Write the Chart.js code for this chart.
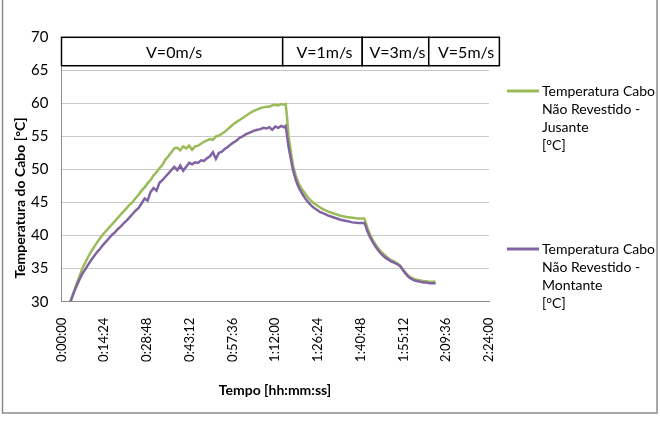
<!DOCTYPE html>
<html>
<head>
<meta charset="utf-8">
<script src="https://cdn.jsdelivr.net/npm/chart.js@4/dist/chart.umd.min.js"></script>
<style>
  body { margin: 0; background: #fff; }
</style>
</head>
<body>
<canvas id="myChart" width="660" height="426"></canvas>
<script>
// tempo em minutos
const tempoMin = [
  3, 4, 5, 6, 7, 8, 9, 10, 11, 12,
  13, 14, 15, 16, 17, 18, 19, 20, 21, 22,
  23, 24, 25, 26, 27, 28, 29, 30, 31, 32,
  33, 34, 35, 36, 37, 38, 39, 40, 41, 42,
  43, 44, 45, 46, 47, 48, 49, 50, 51, 52,
  53, 54, 55, 56, 57, 58, 59, 60, 61, 62,
  63, 64, 65, 66, 67, 68, 69, 70, 71, 72,
  73, 74, 75, 75.5, 76, 76.5, 77, 77.5, 78, 79,
  80, 81, 82, 83, 84, 85, 86, 87, 88, 89,
  90, 92, 94, 96, 98, 100, 102, 102.5, 103, 104,
  105, 106, 107, 108, 109, 110, 111, 112, 113, 114,
  115, 116, 117, 118, 119, 120, 121, 122, 123, 124,
  125, 126
];
const jusante = [
  30.0, 31.3, 32.6, 33.8, 35.0, 35.9, 36.8, 37.6, 38.3, 39.0,
  39.6, 40.2, 40.7, 41.2, 41.7, 42.2, 42.7, 43.2, 43.7, 44.2,
  44.7, 45.1, 45.7, 46.2, 46.8, 47.3, 47.9, 48.4, 49.1, 49.6,
  50.2, 50.7, 51.5, 52.0, 52.6, 53.2, 53.3, 52.9, 53.5, 53.2,
  53.6, 53.0, 53.5, 53.6, 53.9, 54.2, 54.4, 54.6, 54.5, 55.0,
  55.1, 55.4, 55.7, 56.1, 56.5, 56.9, 57.2, 57.5, 57.8, 58.1,
  58.4, 58.7, 58.9, 59.1, 59.3, 59.4, 59.5, 59.5, 59.7, 59.8,
  59.7, 59.9, 59.8, 59.9, 57.8, 55.0, 53.5, 52.0, 50.6, 48.9,
  47.8, 47.0, 46.4, 45.8, 45.3, 44.9, 44.6, 44.3, 44.0, 43.8,
  43.6, 43.3, 43.0, 42.8, 42.7, 42.6, 42.6, 42.0, 41.2, 40.1,
  39.2, 38.5, 37.9, 37.4, 37.0, 36.6, 36.3, 36.1, 35.8, 35.5,
  34.9, 34.3, 33.9, 33.6, 33.4, 33.3, 33.2, 33.1, 33.1, 33.0,
  33.0, 33.0
];
const montante = [
  30.0, 31.2, 32.3, 33.3, 34.2, 34.9, 35.6, 36.3, 36.9, 37.5,
  38.0, 38.6, 39.1, 39.6, 40.1, 40.5, 41.0, 41.4, 41.9, 42.3,
  42.8, 43.3, 43.8, 44.2, 44.9, 45.6, 45.3, 46.6, 47.2, 46.8,
  48.0, 48.4, 48.9, 49.4, 49.9, 50.4, 49.9, 50.6, 49.8, 50.4,
  51.0, 50.8, 51.1, 51.0, 51.4, 51.3, 51.7, 52.0, 52.6, 51.6,
  52.5, 52.7, 53.1, 53.4, 53.8, 54.1, 54.4, 54.8, 55.0, 55.3,
  55.5, 55.7, 55.9, 56.0, 56.1, 56.3, 56.2, 56.4, 56.0, 56.5,
  56.3, 56.6, 56.4, 56.6, 55.0, 53.4, 52.2, 51.0, 49.9, 48.3,
  47.2, 46.4, 45.7, 45.1, 44.6, 44.2, 43.9, 43.6, 43.4, 43.2,
  43.0, 42.7, 42.4, 42.2, 42.0, 41.9, 41.9, 41.4, 40.7, 39.7,
  38.9, 38.2, 37.6, 37.1, 36.7, 36.4, 36.1, 35.9, 35.7, 35.4,
  34.8, 34.2, 33.7, 33.4, 33.2, 33.1, 33.0, 32.9, 32.9, 32.8,
  32.8, 32.8
];
const xTickLabels = ['0:00:00', '0:14:24', '0:28:48', '0:43:12', '0:57:36', '1:12:00',
  '1:26:24', '1:40:48', '1:55:12', '2:09:36', '2:24:00'];
// faixas de velocidade do vento (limites em minutos)
const faixaLimites = [0, 74.5, 101.3, 123.7, 147.5];
const faixaRotulos = ['V=0m/s', 'V=1m/s', 'V=3m/s', 'V=5m/s'];
const faixaTopo = 70;
const faixaBase = 65.7;
const legendaJusante = ['Temperatura Cabo', 'Não Revestido -', 'Jusante', '[°C]'];
const legendaMontante = ['Temperatura Cabo', 'Não Revestido -', 'Montante', '[°C]'];

const VERDE = '#9bbb59';
const ROXO = '#8064a2';
const FONTE = 'Lato, "Open Sans", sans-serif';

Chart.defaults.font.family = FONTE;
Chart.defaults.color = '#000';

const faixas = {
  id: 'faixas',
  afterDraw(chart) {
    const ctx = chart.ctx;
    const x = chart.scales.x, y = chart.scales.y;
    const top = y.getPixelForValue(faixaTopo);
    const bottom = y.getPixelForValue(faixaBase);
    ctx.save();
    for (let i = 0; i < faixaRotulos.length; i++) {
      const x0 = x.getPixelForValue(faixaLimites[i] * 60);
      const x1 = x.getPixelForValue(faixaLimites[i + 1] * 60);
      ctx.fillStyle = '#fff';
      ctx.fillRect(x0, top, x1 - x0, bottom - top);
      ctx.strokeStyle = '#000';
      ctx.lineWidth = 1.5;
      ctx.strokeRect(x0, top, x1 - x0, bottom - top);
      ctx.fillStyle = '#000';
      ctx.font = '16px ' + FONTE;
      ctx.textAlign = 'center';
      ctx.textBaseline = 'middle';
      ctx.fillText(faixaRotulos[i], (x0 + x1) / 2 + 2, (top + bottom) / 2 + 1);
    }
    ctx.restore();
  }
};

const extras = {
  id: 'extras',
  afterDraw(chart) {
    const ctx = chart.ctx;
    ctx.save();
    // moldura
    ctx.strokeStyle = '#8c8c8c';
    ctx.lineWidth = 1.5;
    ctx.strokeRect(2.5, -5, 654.5, 418);
    // titulos dos eixos
    ctx.fillStyle = '#000';
    ctx.font = 'bold 14px ' + FONTE;
    ctx.textAlign = 'center';
    ctx.textBaseline = 'middle';
    ctx.fillText('Tempo [hh:mm:ss]', 275, 390);
    ctx.save();
    ctx.translate(20, 198);
    ctx.rotate(-Math.PI / 2);
    ctx.fillText('Temperatura do Cabo [°C]', 0, 0);
    ctx.restore();
    // legenda
    const itens = [[legendaJusante, VERDE, 91], [legendaMontante, ROXO, 249]];
    ctx.font = '14px ' + FONTE;
    ctx.textAlign = 'left';
    itens.forEach(([linhas, cor, y0]) => {
      ctx.strokeStyle = cor;
      ctx.lineWidth = 3;
      ctx.beginPath();
      ctx.moveTo(507, y0);
      ctx.lineTo(539, y0);
      ctx.stroke();
      linhas.forEach((t, i) => ctx.fillText(t, 542, y0 + i * 18.3));
    });
    ctx.restore();
  }
};

const config = {
  type: 'line',
  data: {
    datasets: [{
      label: legendaJusante.join(' '),
      data: tempoMin.map((t, i) => ({x: t * 60, y: jusante[i]})),
      borderColor: VERDE,
      borderWidth: 2.5,
      pointRadius: 0,
      order: 1
    }, {
      label: legendaMontante.join(' '),
      data: tempoMin.map((t, i) => ({x: t * 60, y: montante[i]})),
      borderColor: ROXO,
      borderWidth: 2.5,
      pointRadius: 0,
      order: 0
    }]
  },
  options: {
    responsive: false,
    animation: false,
    devicePixelRatio: 1,
    layout: {padding: {top: 37.3, right: 171, bottom: 0, left: 0}},
    plugins: {legend: {display: false}, tooltip: {enabled: false}},
    scales: {
      x: {
        type: 'linear',
        min: 0,
        max: 8640,
        afterFit(s) { s.height = 124.3; },
        grid: {display: false},
        border: {display: true, color: '#8c8c8c', width: 1},
        ticks: {
          stepSize: 864,
          maxRotation: 90,
          minRotation: 90,
          padding: 8,
          font: {size: 13},
          callback: (v) => xTickLabels[Math.round(v / 864)]
        }
      },
      y: {
        min: 30,
        max: 70,
        afterFit(s) { s.width = 61.5; },
        grid: {color: '#c8c8c8', drawTicks: false},
        border: {display: true, color: '#8c8c8c', width: 1},
        ticks: {stepSize: 5, padding: 13, font: {size: 15}}
      }
    }
  },
  plugins: [faixas, extras]
};

const myChart = new Chart(document.getElementById('myChart'), config);
</script>
</body>
</html>
